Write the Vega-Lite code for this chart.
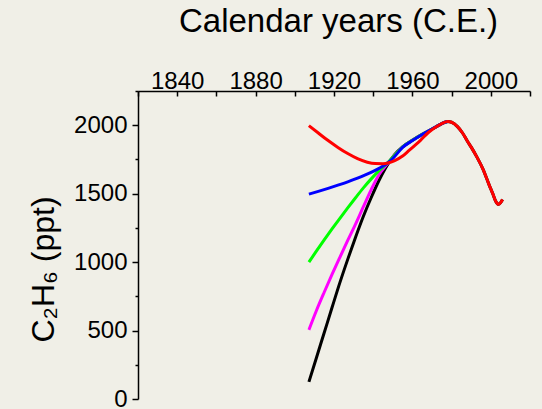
{
  "$schema": "https://vega.github.io/schema/vega-lite/v6.json",
  "autosize": "none",
  "width": 392,
  "height": 308,
  "padding": {"left": 138, "top": 91, "right": 12, "bottom": 10},
  "background": "#f0efe7",
  "config": {
    "view": {"stroke": null},
    "font": "Liberation Sans",
    "axis": {
      "labelFont": "Liberation Sans",
      "titleFont": "Liberation Sans",
      "labelColor": "#000000",
      "titleColor": "#000000",
      "domainColor": "#000000",
      "tickColor": "#000000",
      "domainWidth": 1.5,
      "tickWidth": 1.5,
      "grid": false,
      "titleFontWeight": "normal"
    }
  },
  "data": {
    "values": [
      {"scenario": "125 ppt", "year": 1907.2, "ppt": 125},
      {"scenario": "125 ppt", "year": 1911, "ppt": 300},
      {"scenario": "125 ppt", "year": 1915, "ppt": 484},
      {"scenario": "125 ppt", "year": 1919, "ppt": 668},
      {"scenario": "125 ppt", "year": 1923, "ppt": 850},
      {"scenario": "125 ppt", "year": 1927, "ppt": 1020},
      {"scenario": "125 ppt", "year": 1931, "ppt": 1182},
      {"scenario": "125 ppt", "year": 1935, "ppt": 1335},
      {"scenario": "125 ppt", "year": 1939, "ppt": 1472},
      {"scenario": "125 ppt", "year": 1943, "ppt": 1598},
      {"scenario": "125 ppt", "year": 1947, "ppt": 1705},
      {"scenario": "125 ppt", "year": 1951, "ppt": 1787},
      {"scenario": "125 ppt", "year": 1955, "ppt": 1842},
      {"scenario": "125 ppt", "year": 1960, "ppt": 1890},
      {"scenario": "125 ppt", "year": 1965, "ppt": 1933},
      {"scenario": "125 ppt", "year": 1970, "ppt": 1972},
      {"scenario": "125 ppt", "year": 1972.5, "ppt": 1992},
      {"scenario": "125 ppt", "year": 1975, "ppt": 2012},
      {"scenario": "125 ppt", "year": 1978, "ppt": 2027},
      {"scenario": "125 ppt", "year": 1980, "ppt": 2022},
      {"scenario": "125 ppt", "year": 1983, "ppt": 1990},
      {"scenario": "125 ppt", "year": 1985.5, "ppt": 1945},
      {"scenario": "125 ppt", "year": 1988, "ppt": 1885},
      {"scenario": "125 ppt", "year": 1990, "ppt": 1840},
      {"scenario": "125 ppt", "year": 1993, "ppt": 1765},
      {"scenario": "125 ppt", "year": 1996, "ppt": 1680},
      {"scenario": "125 ppt", "year": 1999, "ppt": 1570},
      {"scenario": "125 ppt", "year": 2001, "ppt": 1500},
      {"scenario": "125 ppt", "year": 2002.5, "ppt": 1445},
      {"scenario": "125 ppt", "year": 2004, "ppt": 1422},
      {"scenario": "125 ppt", "year": 2005, "ppt": 1435},
      {"scenario": "125 ppt", "year": 2006, "ppt": 1458},

      {"scenario": "500 ppt", "year": 1907.2, "ppt": 505},
      {"scenario": "500 ppt", "year": 1911, "ppt": 645},
      {"scenario": "500 ppt", "year": 1915, "ppt": 780},
      {"scenario": "500 ppt", "year": 1919, "ppt": 910},
      {"scenario": "500 ppt", "year": 1923, "ppt": 1035},
      {"scenario": "500 ppt", "year": 1927, "ppt": 1158},
      {"scenario": "500 ppt", "year": 1931, "ppt": 1278},
      {"scenario": "500 ppt", "year": 1935, "ppt": 1405},
      {"scenario": "500 ppt", "year": 1939, "ppt": 1530},
      {"scenario": "500 ppt", "year": 1943, "ppt": 1640},
      {"scenario": "500 ppt", "year": 1947, "ppt": 1715},
      {"scenario": "500 ppt", "year": 1950, "ppt": 1765},
      {"scenario": "500 ppt", "year": 1955, "ppt": 1842},
      {"scenario": "500 ppt", "year": 1960, "ppt": 1890},
      {"scenario": "500 ppt", "year": 1965, "ppt": 1933},
      {"scenario": "500 ppt", "year": 1970, "ppt": 1972},
      {"scenario": "500 ppt", "year": 1972.5, "ppt": 1992},
      {"scenario": "500 ppt", "year": 1975, "ppt": 2012},
      {"scenario": "500 ppt", "year": 1978, "ppt": 2027},

      {"scenario": "1000 ppt", "year": 1907.2, "ppt": 1000},
      {"scenario": "1000 ppt", "year": 1911, "ppt": 1080},
      {"scenario": "1000 ppt", "year": 1915, "ppt": 1162},
      {"scenario": "1000 ppt", "year": 1919, "ppt": 1242},
      {"scenario": "1000 ppt", "year": 1923, "ppt": 1320},
      {"scenario": "1000 ppt", "year": 1927, "ppt": 1396},
      {"scenario": "1000 ppt", "year": 1931, "ppt": 1470},
      {"scenario": "1000 ppt", "year": 1935, "ppt": 1542},
      {"scenario": "1000 ppt", "year": 1939, "ppt": 1608},
      {"scenario": "1000 ppt", "year": 1943, "ppt": 1668},
      {"scenario": "1000 ppt", "year": 1947, "ppt": 1720},
      {"scenario": "1000 ppt", "year": 1950, "ppt": 1765},
      {"scenario": "1000 ppt", "year": 1955, "ppt": 1842},
      {"scenario": "1000 ppt", "year": 1960, "ppt": 1890},
      {"scenario": "1000 ppt", "year": 1965, "ppt": 1933},
      {"scenario": "1000 ppt", "year": 1970, "ppt": 1972},
      {"scenario": "1000 ppt", "year": 1972.5, "ppt": 1992},
      {"scenario": "1000 ppt", "year": 1975, "ppt": 2012},
      {"scenario": "1000 ppt", "year": 1978, "ppt": 2027},

      {"scenario": "1500 ppt", "year": 1907.2, "ppt": 1497},
      {"scenario": "1500 ppt", "year": 1912, "ppt": 1517},
      {"scenario": "1500 ppt", "year": 1917, "ppt": 1539},
      {"scenario": "1500 ppt", "year": 1922, "ppt": 1562},
      {"scenario": "1500 ppt", "year": 1927, "ppt": 1586},
      {"scenario": "1500 ppt", "year": 1932, "ppt": 1613},
      {"scenario": "1500 ppt", "year": 1936, "ppt": 1637},
      {"scenario": "1500 ppt", "year": 1940, "ppt": 1663},
      {"scenario": "1500 ppt", "year": 1944, "ppt": 1693},
      {"scenario": "1500 ppt", "year": 1947, "ppt": 1720},
      {"scenario": "1500 ppt", "year": 1950, "ppt": 1757},
      {"scenario": "1500 ppt", "year": 1955, "ppt": 1838},
      {"scenario": "1500 ppt", "year": 1960, "ppt": 1888},
      {"scenario": "1500 ppt", "year": 1965, "ppt": 1932},
      {"scenario": "1500 ppt", "year": 1970, "ppt": 1972},
      {"scenario": "1500 ppt", "year": 1972.5, "ppt": 1992},
      {"scenario": "1500 ppt", "year": 1975, "ppt": 2012},
      {"scenario": "1500 ppt", "year": 1978, "ppt": 2027},

      {"scenario": "2000 ppt", "year": 1907.2, "ppt": 1997},
      {"scenario": "2000 ppt", "year": 1912, "ppt": 1943},
      {"scenario": "2000 ppt", "year": 1917, "ppt": 1888},
      {"scenario": "2000 ppt", "year": 1922, "ppt": 1838},
      {"scenario": "2000 ppt", "year": 1927, "ppt": 1793},
      {"scenario": "2000 ppt", "year": 1932, "ppt": 1756},
      {"scenario": "2000 ppt", "year": 1937, "ppt": 1730},
      {"scenario": "2000 ppt", "year": 1941, "ppt": 1720},
      {"scenario": "2000 ppt", "year": 1945, "ppt": 1719},
      {"scenario": "2000 ppt", "year": 1948, "ppt": 1726},
      {"scenario": "2000 ppt", "year": 1951, "ppt": 1742},
      {"scenario": "2000 ppt", "year": 1955, "ppt": 1775},
      {"scenario": "2000 ppt", "year": 1958, "ppt": 1812},
      {"scenario": "2000 ppt", "year": 1961, "ppt": 1850},
      {"scenario": "2000 ppt", "year": 1964, "ppt": 1888},
      {"scenario": "2000 ppt", "year": 1968, "ppt": 1945},
      {"scenario": "2000 ppt", "year": 1972, "ppt": 1987},
      {"scenario": "2000 ppt", "year": 1975, "ppt": 2012},
      {"scenario": "2000 ppt", "year": 1978, "ppt": 2027},
      {"scenario": "2000 ppt", "year": 1980, "ppt": 2022},
      {"scenario": "2000 ppt", "year": 1983, "ppt": 1990},
      {"scenario": "2000 ppt", "year": 1985.5, "ppt": 1945},
      {"scenario": "2000 ppt", "year": 1988, "ppt": 1885},
      {"scenario": "2000 ppt", "year": 1990, "ppt": 1840},
      {"scenario": "2000 ppt", "year": 1993, "ppt": 1765},
      {"scenario": "2000 ppt", "year": 1996, "ppt": 1680},
      {"scenario": "2000 ppt", "year": 1999, "ppt": 1570},
      {"scenario": "2000 ppt", "year": 2001, "ppt": 1500},
      {"scenario": "2000 ppt", "year": 2002.5, "ppt": 1445},
      {"scenario": "2000 ppt", "year": 2004, "ppt": 1422},
      {"scenario": "2000 ppt", "year": 2005, "ppt": 1435},
      {"scenario": "2000 ppt", "year": 2006, "ppt": 1458}
    ]
  },
  "resolve": {"axis": {"x": "independent"}},
  "layer": [
    {
      "mark": {"type": "line", "strokeWidth": 3, "interpolate": "monotone", "clip": true},
      "encoding": {
        "x": {
          "field": "year",
          "type": "quantitative",
          "scale": {"domain": [1820, 2020], "nice": false, "zero": false},
          "axis": {
            "orient": "top",
            "title": "Calendar years (C.E.)",
            "titleFontSize": 33,
            "titleX": 200,
            "titleY": -60,
            "titleBaseline": "alphabetic",
            "titleAlign": "center",
            "values": [1840, 1880, 1920, 1960, 2000],
            "format": "d",
            "labelFontSize": 24,
            "labelBaseline": "alphabetic",
            "labelPadding": 3,
            "labelFlush": false,
            "labelOverlap": false,
            "ticks": false,
            "tickSize": 0
          }
        },
        "y": {
          "field": "ppt",
          "type": "quantitative",
          "scale": {"domain": [0, 2250], "nice": false, "zero": true},
          "axis": {
            "orient": "left",
            "title": "C₂H₆ (ppt)",
            "titleFontSize": 32,
            "titleAngle": -90,
            "titleX": -85,
            "titleY": 178,
            "titleBaseline": "alphabetic",
            "titleAlign": "center",
            "values": [0, 250, 500, 750, 1000, 1250, 1500, 1750, 2000, 2250],
            "labelExpr": "datum.value % 500 == 0 ? datum.label : ''",
            "format": "d",
            "labelFontSize": 24,
            "labelPadding": 5,
            "labelFlush": false,
            "labelOverlap": false,
            "tickSize": {"condition": {"test": "datum.value % 500 == 0", "value": 6}, "value": 3}
          }
        },
        "color": {
          "field": "scenario",
          "type": "nominal",
          "scale": {
            "domain": ["125 ppt", "500 ppt", "1000 ppt", "1500 ppt", "2000 ppt"],
            "range": ["#000000", "#ff00ff", "#00ff00", "#0000ff", "#ff0000"]
          },
          "legend": null
        }
      }
    },
    {
      "mark": {"type": "line", "strokeWidth": 0, "opacity": 0},
      "encoding": {
        "x": {
          "field": "year",
          "type": "quantitative",
          "axis": {
            "orient": "bottom",
            "offset": -308,
            "values": [1820, 1840, 1860, 1880, 1900, 1920, 1940, 1960, 1980, 2000, 2020],
            "labels": false,
            "domain": false,
            "title": null,
            "ticks": true,
            "tickSize": 5
          }
        },
        "y": {
          "field": "ppt",
          "type": "quantitative",
          "axis": {
            "orient": "left",
            "title": "C₂H₆ (ppt)",
            "titleFontSize": 32,
            "titleAngle": -90,
            "titleX": -85,
            "titleY": 178,
            "titleBaseline": "alphabetic",
            "titleAlign": "center",
            "values": [0, 250, 500, 750, 1000, 1250, 1500, 1750, 2000, 2250],
            "labelExpr": "datum.value % 500 == 0 ? datum.label : ''",
            "format": "d",
            "labelFontSize": 24,
            "labelPadding": 5,
            "labelFlush": false,
            "labelOverlap": false,
            "tickSize": {"condition": {"test": "datum.value % 500 == 0", "value": 6}, "value": 3}
          }
        },
        "detail": {"field": "scenario"}
      }
    }
  ]
}
